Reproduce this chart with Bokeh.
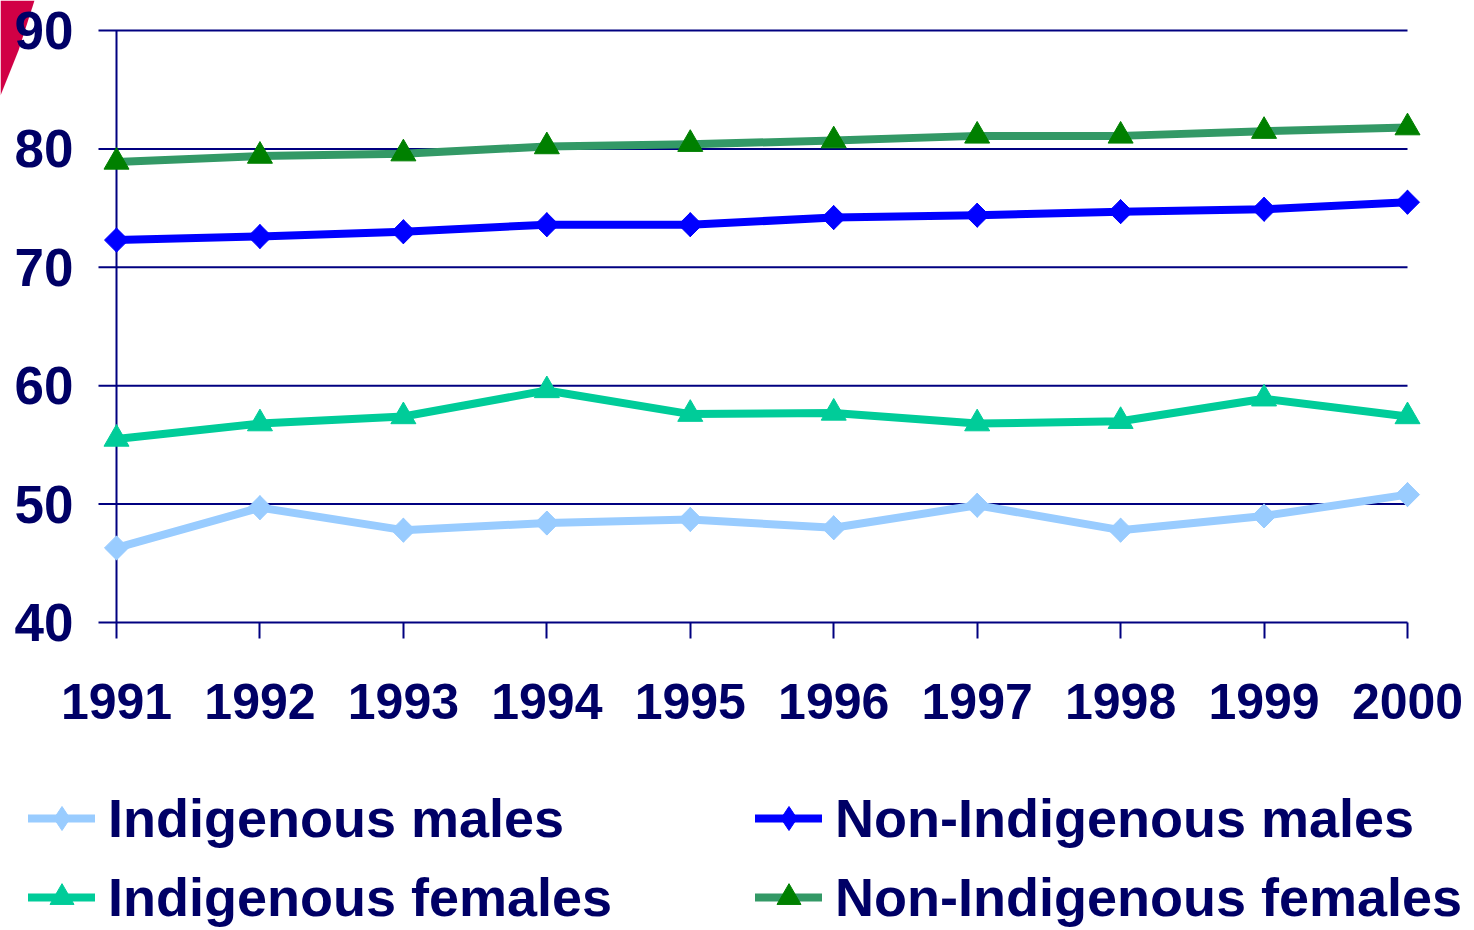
import numpy as np
from bokeh.plotting import figure
from bokeh.models import Range1d, FixedTicker, Legend, LegendItem, ColumnDataSource
from bokeh.embed import file_html
from bokeh.resources import INLINE

years = [1991, 1992, 1993, 1994, 1995, 1996, 1997, 1998, 1999, 2000]
ind_males = [46.3, 49.7, 47.8, 48.4, 48.7, 48.0, 49.9, 47.8, 49.0, 50.8]
non_ind_males = [72.3, 72.6, 73.0, 73.6, 73.6, 74.2, 74.4, 74.7, 74.9, 75.5]
ind_females = [55.5, 56.8, 57.4, 59.6, 57.6, 57.7, 56.8, 57.0, 58.9, 57.4]
non_ind_females = [78.9, 79.4, 79.6, 80.2, 80.4, 80.7, 81.1, 81.1, 81.5, 81.8]
y_ticks = [40, 50, 60, 70, 80, 90]

NAVY = "#000066"
GRID = "#000080"
FONT = "Liberation Sans"

# page geometry (pixels): plot area spans the whole canvas
W, H = 1474, 930
PX_LEFT, PX_RIGHT = 116, 1407     # first / last year
PX_TOP, PX_BOTTOM = 30, 622       # top / bottom tick value
ppx = (PX_RIGHT - PX_LEFT) / (years[-1] - years[0])
ppy = (PX_BOTTOM - PX_TOP) / (y_ticks[-1] - y_ticks[0])
x_lo = years[0] - PX_LEFT / ppx
x_hi = years[0] + (W - PX_LEFT) / ppx
y_hi = y_ticks[-1] + PX_TOP / ppy
y_lo = y_ticks[-1] - (H - PX_TOP) / ppy
grid_x0 = years[0] - 18 / ppx

p = figure(width=W, height=H, output_backend="svg", toolbar_location=None,
           x_range=Range1d(x_lo, x_hi), y_range=Range1d(y_lo, y_hi),
           min_border=0, min_border_left=0, min_border_right=0,
           min_border_top=0, min_border_bottom=0)
p.outline_line_color = None
p.xgrid.visible = False
p.ygrid.visible = False
p.background_fill_color = "white"
p.border_fill_color = "white"

# decorative red corner
p.patch(x=[x_lo, x_lo + 34 / ppx, x_lo + 18 / ppx, x_lo],
        y=[y_hi, y_hi, y_hi - 50 / ppy, y_hi - 95 / ppy],
        fill_color="#D10045", line_color=None)

# axes
p.xaxis.fixed_location = y_ticks[0]
p.xaxis.ticker = FixedTicker(ticks=years)
p.xaxis.axis_line_color = None
p.xaxis.major_tick_line_color = GRID
p.xaxis.major_tick_line_width = 2
p.xaxis.major_tick_out = 16
p.xaxis.major_tick_in = 0
p.xaxis.minor_tick_line_color = None
p.xaxis.major_label_standoff = 45
p.xaxis.major_label_text_font = FONT
p.xaxis.major_label_text_font_style = "bold"
p.xaxis.major_label_text_font_size = "50px"
p.xaxis.major_label_text_color = NAVY

p.yaxis.fixed_location = grid_x0
p.yaxis.ticker = FixedTicker(ticks=y_ticks)
p.yaxis.axis_line_color = None
p.yaxis.major_tick_line_color = None
p.yaxis.minor_tick_line_color = None
p.yaxis.major_label_standoff = 19
p.yaxis.major_label_text_font = FONT
p.yaxis.major_label_text_font_style = "bold"
p.yaxis.major_label_text_font_size = "53px"
p.yaxis.major_label_text_color = NAVY

# grid lines (with outward ticks) and vertical axis line
p.segment(x0=[grid_x0] * len(y_ticks), x1=[years[-1]] * len(y_ticks), y0=y_ticks, y1=y_ticks,
          line_color=GRID, line_width=2)
p.segment(x0=[years[0]], x1=[years[0]], y0=[y_ticks[0]], y1=[y_ticks[-1]],
          line_color=GRID, line_width=2)

series = [
    ("Indigenous males", ind_males, "#99CCFF", "#99CCFF", "diamond"),
    ("Indigenous females", ind_females, "#00CC99", "#00CC99", "triangle"),
    ("Non-Indigenous males", non_ind_males, "#0000FF", "#0000FF", "diamond"),
    ("Non-Indigenous females", non_ind_females, "#339966", "#008000", "triangle"),
]
items = []
for name, vals, lc, mc, mk in series:
    src = ColumnDataSource(dict(x=years, y=vals))
    lr = p.line("x", "y", source=src, line_color=lc, line_width=8,
                line_cap="round", line_join="round")
    if mk == "diamond":
        # narrow diamond (used for the legend swatch), fully covered by the rotated square below
        kr = p.scatter("x", "y", source=src, marker="diamond", size=24,
                       fill_color=mc, line_color=mc, line_width=1)
        sr = p.scatter("x", "y", source=src, marker="square", size=17, angle=np.pi / 4,
                       fill_color=mc, line_color=mc, line_width=1)
        items.append(LegendItem(label=name, renderers=[lr, kr]))
    else:
        sr = p.scatter("x", "y", source=src, marker="triangle", size=25,
                       fill_color=mc, line_color=mc, line_width=1)
        items.append(LegendItem(label=name, renderers=[lr, sr]))

legend = Legend(items=items, location=(28, 2), orientation="vertical", ncols=2,
                glyph_width=67, glyph_height=60, label_standoff=13, label_width=630,
                spacing=17, padding=0, margin=0,
                border_line_color=None, background_fill_alpha=0,
                label_text_font=FONT, label_text_font_style="bold",
                label_text_font_size="54px", label_text_color=NAVY)
p.add_layout(legend, "center")

open("out.html", "w").write(file_html(p, INLINE))
